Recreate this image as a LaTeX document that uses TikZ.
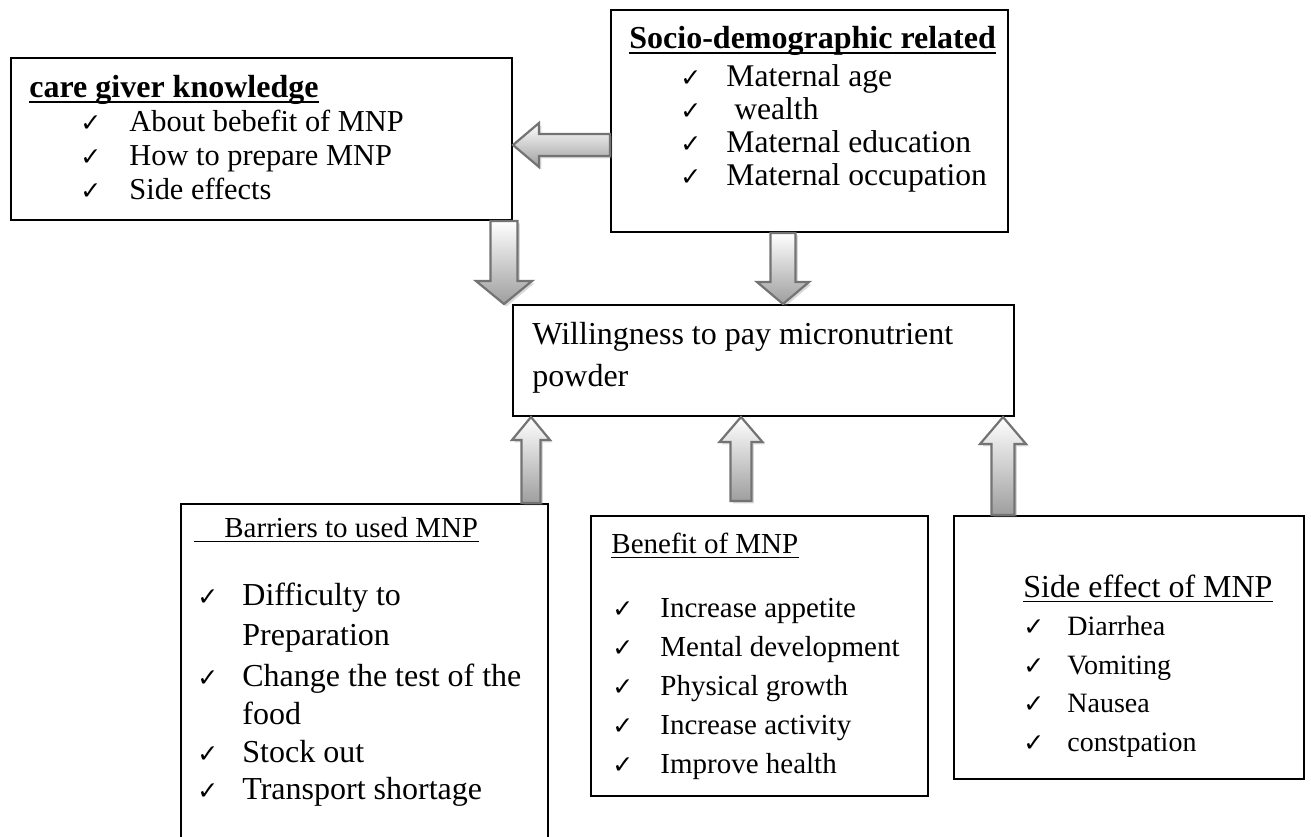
\documentclass[tikz,border=0pt]{standalone}
\usepackage{fontspec}
\setmainfont{Liberation Serif}
\newfontfamily\chkfont{DejaVu Sans}
\usetikzlibrary{calc,shadows}

\newlength\tickw
\setlength\tickw{21pt}
\newcommand{\tick}{\makebox[\tickw][l]{\chkfont\fontsize{12.5}{12.5}\selectfont ✓}}
\newcommand{\notick}{\hspace*{\tickw}}

% block arrow: tail, tip, half shaft, half head, head length
\newcommand{\fatarrow}[5]{%
  \coordinate (fa-b) at ($(#2)!#5!(#1)$);
  \path[fatarrow] ($(#1)!#3!90:(#2)$) -- ($(fa-b)!#3!-90:(#1)$) -- ($(fa-b)!#4!-90:(#1)$) -- (#2)
    -- ($(fa-b)!#4!90:(#1)$) -- ($(fa-b)!#3!90:(#1)$) -- ($(#1)!#3!-90:(#2)$) -- cycle;
}

\tikzset{
  box/.style={draw, line width=1pt, anchor=north west, inner sep=0pt},
  item/.style={anchor=base west, inner sep=0pt, font=\fontsize{14}{16}\selectfont},
  fatarrow/.style={top color=white, bottom color=black!38, draw=black!55, line width=1.1pt,
    drop shadow={shadow xshift=1.2pt, shadow yshift=-1.2pt, opacity=0.3, fill=black!50}},
  thickul/.style={line width=1pt},
  thinul/.style={line width=0.6pt},
}

\begin{document}
\begin{tikzpicture}[x=0.5pt, y=-0.5pt]
  \useasboundingbox (0,0) rectangle (1311,836);

  % boxes
  \node[box, minimum width=250.5pt, minimum height=81pt] (care) at (10,57) {};
  \node[box, minimum width=198.5pt, minimum height=111pt] (socio) at (610,9) {};
  \node[box, minimum width=250.5pt, minimum height=55.5pt] (will) at (512,304) {};
  \node[box, minimum width=183.5pt, minimum height=180pt] (barrier) at (180,503) {};
  \node[box, minimum width=168.5pt, minimum height=140pt] (benefit) at (590,515) {};
  \node[box, minimum width=175pt, minimum height=131.5pt] (side) at (953,515) {};

  % care giver knowledge
  \node[item, font=\bfseries\fontsize{16}{18}\selectfont] (care-h) at (29,97) {care giver knowledge};
  \draw[thickul] ([yshift=-2.6pt]care-h.base west) -- ([yshift=-2.6pt]care-h.base east);
  \setlength\tickw{24.5pt}
  \foreach \t [count=\i] in {About bebefit of MNP, How to prepare MNP, Side effects}
    \node[item, font=\fontsize{15.2}{17}\selectfont] (care-\i) at (80,{97+34*\i}) {\tick\t};

  % socio-demographic
  \node[item, font=\bfseries\fontsize{16}{18}\selectfont] (socio-h) at (629,48) {Socio-demographic related};
  \draw[thickul] ([yshift=-2.6pt]socio-h.base west) -- ([yshift=-2.6pt]socio-h.base east);
  \setlength\tickw{23pt}
  \foreach \t [count=\i] in {Maternal age, \ wealth, Maternal education, Maternal occupation}
    \node[item, font=\fontsize{15.8}{17}\selectfont] (socio-\i) at (680,{53+33*\i}) {\tick\t};

  % outcome
  \node[item, font=\fontsize{16}{19}\selectfont] (will-1) at (532,344) {Willingness to pay micronutrient};
  \node[item, font=\fontsize{16}{19}\selectfont] (will-2) at (532,386) {powder};

  % barriers
  \node[item, font=\fontsize{14.5}{17}\selectfont] (bar-h) at (194,537) {\hspace*{15pt}Barriers to used MNP};
  \draw[thinul] ([yshift=-2.4pt]bar-h.base west) -- ([yshift=-2.4pt]bar-h.base east);
  \setlength\tickw{22.5pt}
  \foreach \y/\t in {605/\tick Difficulty to, 645/\notick Preparation, 686/\tick Change the test of the,
                     724/\notick food, 762/\tick Stock out, 799/\tick Transport shortage}
    \node[item, font=\fontsize{16}{19}\selectfont] (bar-\y) at (197,\y) {\t};

  % benefit
  \node[item, font=\fontsize{14.5}{17}\selectfont] (ben-h) at (611,553) {Benefit of MNP};
  \draw[thinul] ([yshift=-2.4pt]ben-h.base west) -- ([yshift=-2.4pt]ben-h.base east);
  \setlength\tickw{24pt}
  \foreach \t [count=\i] in {Increase appetite, Mental development, Physical growth, Increase activity, Improve health}
    \node[item, font=\fontsize{14.5}{17}\selectfont] (ben-\i) at (612,{578+39*\i}) {\tick\t};

  % side effects
  \node[item, font=\fontsize{16}{19}\selectfont] (side-h) at (1023,597) {Side effect of MNP};
  \draw[thinul] ([yshift=-2.4pt]side-h.base west) -- ([yshift=-2.4pt]side-h.base east);
  \setlength\tickw{22pt}
  \foreach \t [count=\i] in {Diarrhea, Vomiting, Nausea, constpation}
    \node[item] (side-\i) at (1023,{597+38.5*\i}) {\tick\t};

  % arrows
  \coordinate (la-t) at ($(socio.north west)+(0,136)$);
  \coordinate (la-h) at (la-t -| care.east);
  \fatarrow{la-t}{la-h}{5.5pt}{11pt}{13pt}

  \coordinate (d1-t) at ($(care.south east)+(-9,0)$);
  \coordinate (d1-h) at (d1-t |- will.north);
  \fatarrow{d1-t}{d1-h}{6.75pt}{14pt}{11.5pt}

  \coordinate (d2-t) at ($(socio.south west)+(173,0)$);
  \coordinate (d2-h) at (d2-t |- will.north);
  \fatarrow{d2-t}{d2-h}{6.25pt}{13pt}{11pt}

  \coordinate (u1-t) at ($(barrier.north east)+(-18,0)$);
  \coordinate (u1-h) at (u1-t |- will.south);
  \fatarrow{u1-t}{u1-h}{4.75pt}{9.5pt}{11.5pt}

  \coordinate (u2-t) at ($(benefit.north west)+(151,-14)$);
  \coordinate (u2-h) at (u2-t |- will.south);
  \fatarrow{u2-t}{u2-h}{5.25pt}{10.75pt}{12.5pt}

  \coordinate (u3-t) at ($(side.north west)+(50,0)$);
  \coordinate (u3-h) at (u3-t |- will.south);
  \fatarrow{u3-t}{u3-h}{5.75pt}{11.5pt}{13.5pt}
\end{tikzpicture}
\end{document}
